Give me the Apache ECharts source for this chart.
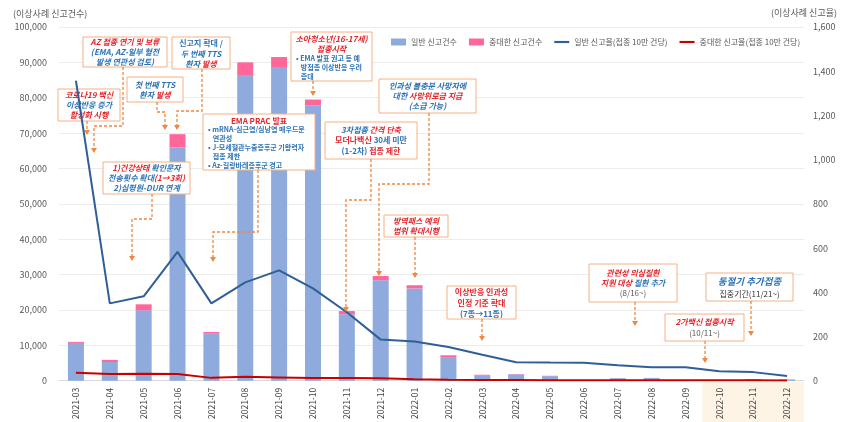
<!DOCTYPE html>
<html>
<head>
<meta charset="utf-8">
<script src="https://cdn.jsdelivr.net/npm/echarts@6/dist/echarts.min.js"></script>
<style>
  html, body { margin: 0; padding: 0; background: #fff; }
  #chart { width: 842px; height: 422px; }
</style>
</head>
<body>
<div id="chart"></div>
<script>
// 월별 카테고리
var months = ['2021-03','2021-04','2021-05','2021-06','2021-07','2021-08','2021-09','2021-10','2021-11','2021-12',
  '2022-01','2022-02','2022-03','2022-04','2022-05','2022-06','2022-07','2022-08','2022-09','2022-10','2022-11','2022-12'];
// 신고건수 (왼쪽 축)
var generalCount = [10700, 5300, 19900, 65900, 13300, 86200, 88700, 77800, 18800, 28400,
  26100, 6700, 1600, 1800, 1300, 150, 700, 750, 200, 100, 450, 350];
var seriousCount = [300, 600, 1700, 3800, 500, 3800, 2800, 1700, 900, 1200,
  900, 500, 100, 100, 100, 20, 50, 50, 20, 10, 50, 50];
// 신고율 (접종 10만 건당, 오른쪽 축)
var generalRate = [1357, 350, 382, 583, 350, 445, 499, 418, 310, 186,
  178, 153, 118, 84, 82, 81, 70, 61, 61, 43, 39, 21];
var seriousRate = [36, 31, 32, 31, 13, 18, 15, 12, 12, 11,
  7, 4, 3, 3, 2, 2, 2, 2, 2, 2, 2, 1];
// 축 범위
var leftMax = 100000, leftStep = 10000;
var rightMax = 1600, rightStep = 200;
var shadedMonths = ['2022-10', '2022-12'];

var FONT = "'Noto Sans CJK KR', 'Noto Sans', sans-serif";
var RED = '#e3262d', BLUE = '#2e74b5', GRAY = '#595959', DARK = '#333';
var ORANGE = '#f0883e', BORDER = '#f4b183';
var LINE_ICON = 'path://M0,0 H14 V2 H0 Z';

var chart = echarts.init(document.getElementById('chart'));

function fmt(v) { return v.toLocaleString('en-US'); }

var option = {
  animation: false,
  textStyle: { fontFamily: FONT },
  grid: { left: 59, right: 38, top: 27, bottom: 39 },
  legend: {
    left: 386, top: 33, width: 456,
    itemWidth: 15, itemHeight: 7, itemGap: 12,
    textStyle: { fontSize: 8, color: GRAY, fontFamily: FONT },
    data: [
      { name: '일반 신고건수', icon: 'rect' },
      { name: '중대한 신고건수', icon: 'rect' },
      { name: '일반 신고율(접종 10만 건당)', icon: LINE_ICON },
      { name: '중대한 신고율(접종 10만 건당)', icon: LINE_ICON }
    ]
  },
  xAxis: {
    type: 'category',
    data: months,
    axisTick: { show: false },
    axisLine: { lineStyle: { color: '#d9d9d9' } },
    axisLabel: { rotate: 90, fontSize: 8.5, color: '#404040', margin: 7, interval: 0 }
  },
  yAxis: [
    {
      type: 'value', min: 0, max: leftMax, interval: leftStep,
      axisLabel: { fontSize: 9, color: GRAY, margin: 12, formatter: fmt },
      splitLine: { lineStyle: { color: '#ececec' } },
      axisLine: { show: false }, axisTick: { show: false }
    },
    {
      type: 'value', min: 0, max: rightMax, interval: rightStep,
      axisLabel: { fontSize: 9, color: GRAY, margin: 9, formatter: fmt },
      splitLine: { show: false },
      axisLine: { show: false }, axisTick: { show: false }
    }
  ],
  series: [
    {
      name: '일반 신고건수', type: 'bar', stack: 'cnt', barWidth: 16,
      itemStyle: { color: '#8faadc' }, data: generalCount
    },
    {
      name: '중대한 신고건수', type: 'bar', stack: 'cnt', barWidth: 16,
      itemStyle: { color: '#ff6699' }, data: seriousCount
    },
    {
      name: '일반 신고율(접종 10만 건당)', type: 'line', yAxisIndex: 1,
      symbol: 'none', lineStyle: { color: '#2f5f96', width: 2 }, itemStyle: { color: '#2f5f96' },
      data: generalRate, z: 3
    },
    {
      name: '중대한 신고율(접종 10만 건당)', type: 'line', yAxisIndex: 1,
      symbol: 'none', lineStyle: { color: '#c80000', width: 2 }, itemStyle: { color: '#c80000' },
      data: seriousRate, z: 3
    }
  ]
};
chart.setOption(option);

// 주석 상자: 위치/크기, 줄 단위 텍스트, 화살표 경로
var rich = {
  r: { fill: RED, fontSize: 8, fontWeight: 'bold', fontStyle: 'italic', fontFamily: FONT, lineHeight: 10 },
  b: { fill: BLUE, fontSize: 8, fontWeight: 'bold', fontStyle: 'italic', fontFamily: FONT, lineHeight: 10 },
  rn: { fill: RED, fontSize: 8, fontWeight: 'bold', fontFamily: FONT, lineHeight: 11 },
  bn: { fill: BLUE, fontSize: 8, fontWeight: 'bold', fontFamily: FONT, lineHeight: 11 },
  bs: { fill: BLUE, fontSize: 7, fontWeight: 'bold', fontFamily: FONT, lineHeight: 9 },
  g: { fill: GRAY, fontSize: 8, fontFamily: FONT, lineHeight: 11 },
  k: { fill: DARK, fontSize: 8, fontFamily: FONT, lineHeight: 11 },
  bl: { fill: BLUE, fontSize: 9.5, fontWeight: 'bold', fontStyle: 'italic', fontFamily: FONT, lineHeight: 13 }
};

var notes = [
  { box: [58, 89, 62, 32], z: 1, text: '{r|코로나19 백신}\n{b|이상반응 증가}\n{r|활성화 시행}',
    path: [[87, 121], [87, 135]] },
  { box: [83, 37, 84, 30], text: '{r|AZ 접종 연기 및 보류}\n{b|(EMA, AZ-일부 혈전}\n{b|발생 연관성 검토)}',
    path: [[123, 67], [123, 126], [94, 126], [94, 153]] },
  { box: [172, 37, 58, 32], text: '{bn|신고지 확대 /}\n{b|두 번째 TTS}\n{b|환자 }{r|발생}',
    path: [[202, 69], [202, 111], [177, 111], [177, 130]] },
  { box: [127, 77, 56, 25], text: '{b|첫 번째 TTS}\n{b|환자 }{r|발생}',
    path: [[157, 102], [157, 112], [165, 112], [165, 130]] },
  { box: [103, 162, 87, 32], text: '{r|1)건강상태 }{b|확인문자}\n{b|전송횟수 확대}{r|(1→3회)}\n{b|2)심평원-DUR 연계}',
    path: [[152, 194], [152, 219], [132, 219], [132, 261]] },
  { box: [203, 114, 112, 56], text: '{rn|EMA PRAC 발표}',
    textY: 121,
    sub: '{bs|• mRNA-심근염/심낭염 매우드문}\n{bs|   연관성}\n{bs|• J-모세혈관누출증후군 기왕력자}\n{bs|   접종 제한}\n{bs|• Az-길랑바레증후군 경고}',
    subX: 208, subY: 147,
    path: [[258, 170], [258, 232], [213, 232], [213, 262]] },
  { box: [291, 32, 81, 49], text: '{r|소아청소년(16-17세)}\n{r|접종시작}',
    textY: 44,
    sub: '{bs|• EMA 발표 권고 등 예}\n{bs|   방접종 이상반응 우려}\n{bs|   증대}',
    subX: 296, subY: 67,
    path: [[313, 81], [313, 96]] },
  { box: [379, 79, 97, 34], text: '{b|인과성 불충분 사망자에}\n{b|대한 }{r|사망위로금 지급}\n{b|(소급 가능)}',
    path: [[429, 113], [429, 184], [379, 184], [379, 276]] },
  { box: [325, 122, 92, 37], text: '{b|3차접종 }{r|간격 단축}\n{rn|모더나백신 }{bn|30세 미만}\n{bn|(1-2차) }{rn|접종 제한}',
    path: [[371, 159], [371, 200], [346, 200], [346, 312]] },
  { box: [384, 215, 64, 22], text: '{r|방역패스 예외}\n{r|범위 확대시행}',
    path: [[415, 237], [415, 278]] },
  { box: [447, 286, 69, 33], text: '{rn|이상반응 인과성}\n{rn|인정 기준 확대}\n{bn|(7종→11종)}',
    path: [[482, 319], [482, 341]] },
  { box: [589, 264, 88, 38], text: '{r|관련성 의심질환}\n{r|지원 대상 }{b|질환 추가}\n{g|(8/16~)}',
    path: [[635, 302], [635, 326]] },
  { box: [706, 273, 87, 28], text: '{bl|동절기 추가접종}\n{k|집중기간(11/21~)}',
    path: [[751, 301], [751, 336]] },
  { box: [665, 314, 79, 27], text: '{r|2가백신 접종시작}\n{g|(10/11~)}',
    path: [[705, 341], [705, 363]] }
];

var elements = [];

// 2022-10 ~ 2022-12 라벨 영역 음영
var xa = chart.convertToPixel({ xAxisIndex: 0 }, shadedMonths[0]);
var xb = chart.convertToPixel({ xAxisIndex: 0 }, shadedMonths[1]);
var catW = (xb - xa) / 2;
var y0 = chart.convertToPixel({ yAxisIndex: 0 }, 0);
elements.push({
  type: 'rect', z: 0, silent: true,
  shape: { x: xa - catW / 2, y: y0 + 1, width: xb - xa + catW, height: 422 - y0 },
  style: { fill: '#fdf4e6' }
});

// 축 제목
elements.push({
  type: 'text', x: 13, y: 14, z: 10,
  style: { text: '(이상사례 신고건수)', fill: GRAY, fontSize: 9, fontFamily: FONT, align: 'left', verticalAlign: 'middle' }
});
elements.push({
  type: 'text', x: 837, y: 13, z: 10,
  style: { text: '(이상사례 신고율)', fill: GRAY, fontSize: 9, fontFamily: FONT, align: 'right', verticalAlign: 'middle' }
});

notes.forEach(function (n) {
  var z = n.z || 10;
  var b = n.box;
  elements.push({
    type: 'rect', z: z,
    shape: { x: b[0], y: b[1], width: b[2], height: b[3] },
    style: { fill: '#fff', stroke: BORDER, lineWidth: 1 }
  });
  elements.push({
    type: 'text', z: z + 1,
    x: b[0] + b[2] / 2, y: n.textY || (b[1] + b[3] / 2),
    style: { text: n.text, rich: rich, align: 'center', verticalAlign: 'middle', textAlign: 'center', textVerticalAlign: 'middle' }
  });
  if (n.sub) {
    elements.push({
      type: 'text', z: z + 1, x: n.subX, y: n.subY,
      style: { text: n.sub, rich: rich, align: 'left', verticalAlign: 'middle', textAlign: 'left', textVerticalAlign: 'middle' }
    });
  }
  var p = n.path;
  var end = p[p.length - 1];
  var pts = p.slice(0, -1).concat([[end[0], end[1] - 4]]);
  elements.push({
    type: 'polyline', z: z,
    shape: { points: pts },
    style: { stroke: ORANGE, lineWidth: 1.3, lineDash: [3, 2], fill: null }
  });
  elements.push({
    type: 'polygon', z: z,
    shape: { points: [[end[0] - 3, end[1] - 5], [end[0] + 3, end[1] - 5], [end[0], end[1]]] },
    style: { fill: ORANGE }
  });
});

chart.setOption({ graphic: elements });
</script>
</body>
</html>
